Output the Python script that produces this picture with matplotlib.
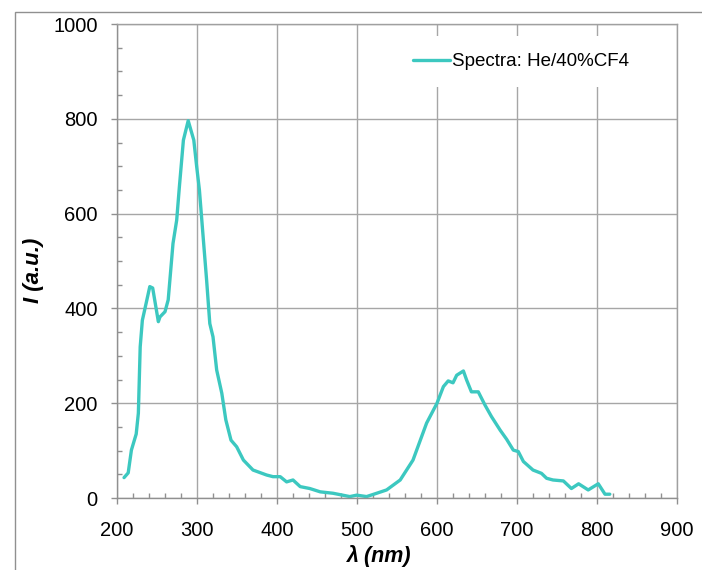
import matplotlib
matplotlib.use("Agg")
import matplotlib.pyplot as plt
from matplotlib.ticker import MultipleLocator
from matplotlib.patches import Rectangle

wavelength = [208.8, 214, 218, 224, 226.7, 229, 231.7, 235, 241, 244.6, 251.7, 253.7, 260, 264,
              270, 274.6, 278, 283, 289, 296, 299.6, 303, 308, 312, 316, 320, 324.6, 331, 336,
              342.5, 349.6, 358, 370, 387, 395, 404, 412, 420, 429, 441, 454, 470, 491, 499.6,
              512, 524.6, 537, 554, 570, 587, 600, 608, 614, 620, 624.6, 633, 637, 643, 651.6,
              660, 668, 679, 687, 695.4, 701.6, 708, 720, 730.6, 737, 745, 758, 768, 777, 789,
              801.6, 810, 816]
intensity = [43, 53, 101, 135, 179, 319, 375, 400, 446, 443, 372, 382, 393, 418,
             537, 586, 657, 755, 796, 755, 699, 650, 544, 460, 368, 340, 270, 221, 165,
             122, 108, 80, 59, 48.5, 45, 45, 34, 38, 24, 20, 13, 10, 3, 6,
             3, 10, 17, 38, 80, 158, 200, 235, 247, 243, 259, 268, 249, 224, 224,
             196, 172, 143, 124, 101, 98, 77, 59, 52, 41.6, 38, 36, 20, 30, 17,
             30, 8, 8]
series_label = "Spectra: He/40%CF4"
x_ticks = [200, 300, 400, 500, 600, 700, 800, 900]
y_ticks = [0, 200, 400, 600, 800, 1000]

plt.rcParams['font.family'] = ['Liberation Sans', 'DejaVu Sans']

fig = plt.figure(figsize=(7.02, 5.70), dpi=100)
# outer chart-area frame
fig.patches.append(Rectangle((15 / 702, -0.1), 1.2, (570 - 12) / 570 + 0.1,
                             transform=fig.transFigure, fill=False,
                             edgecolor='#909090', linewidth=1.0))
ax = fig.add_axes([117 / 702, 72 / 570, 560 / 702, 474 / 570])

ax.plot(wavelength, intensity, color='#3cc8c0', linewidth=2.4, label=series_label,
        solid_joinstyle='round', solid_capstyle='round')

ax.set_xlim(200, 900)
ax.set_ylim(0, 1000)
ax.set_xticks(x_ticks)
ax.set_yticks(y_ticks)
ax.xaxis.set_minor_locator(MultipleLocator(20))
ax.yaxis.set_minor_locator(MultipleLocator(50))
ax.grid(True, which='major', color='#a6a6a6', linewidth=1.0)
ax.set_axisbelow(True)

ax.tick_params(which='major', direction='out', length=4.3, width=1.0, color='#909090',
               labelsize=14.5)
ax.tick_params(which='minor', direction='in', length=3.6, width=1.0, color='#909090')
ax.tick_params(axis='x', which='major', pad=12.5)
ax.tick_params(axis='y', which='major', pad=9.5)

for s in ax.spines.values():
    s.set_color('#a0a0a0')
    s.set_linewidth(1.0)
ax.spines['left'].set_color('#909090')
ax.spines['bottom'].set_color('#909090')

ax.set_xlabel('λ (nm)', fontsize=15.5, fontweight='bold', style='italic', va='center')
ax.xaxis.set_label_coords((379 - 117) / 560, (498 - 556) / 474)
ax.set_ylabel('I (a.u.)', fontsize=16, fontweight='bold', style='italic', va='center')
ax.yaxis.set_label_coords((33 - 117) / 560, (498 - 270) / 474)

leg = ax.legend(loc='center left', bbox_to_anchor=(0.499, 0.92), frameon=True,
                fontsize=13.5, handlelength=1.95, handletextpad=0.1,
                borderaxespad=0, borderpad=0.9, fancybox=False)
leg.get_frame().set_edgecolor('none')
leg.get_frame().set_facecolor('white')
leg.get_frame().set_alpha(1.0)

fig.savefig('out.png', dpi=100)
